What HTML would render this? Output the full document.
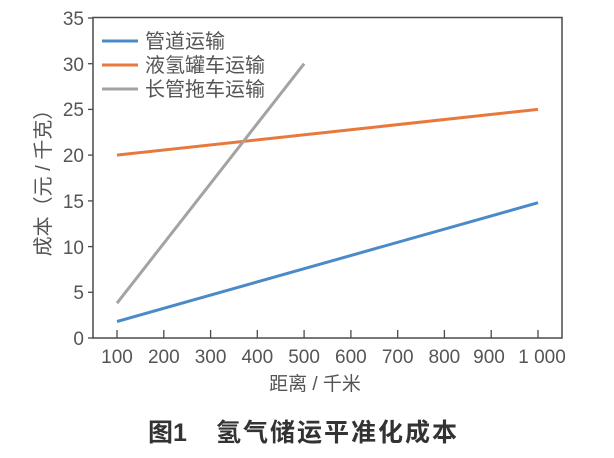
<!DOCTYPE html>
<html><head><meta charset="utf-8"><style>
html,body{margin:0;padding:0;background:#fff;}
svg{display:block;font-family:"Liberation Sans","Noto Sans CJK SC",sans-serif;}
</style></head><body>
<svg width="614" height="458" viewBox="0 0 614 458" xmlns="http://www.w3.org/2000/svg">
<rect width="614" height="458" fill="#fff"/>
<rect x="93" y="17.5" width="469" height="320.5" fill="none" stroke="#4a4a4a" stroke-width="1.5"/>
<g stroke="#4a4a4a" stroke-width="1.3">
<line x1="88" y1="338" x2="93" y2="338"/><line x1="88" y1="292.3" x2="93" y2="292.3"/><line x1="88" y1="246.6" x2="93" y2="246.6"/><line x1="88" y1="200.9" x2="93" y2="200.9"/><line x1="88" y1="155.1" x2="93" y2="155.1"/><line x1="88" y1="109.4" x2="93" y2="109.4"/><line x1="88" y1="63.7" x2="93" y2="63.7"/><line x1="88" y1="18" x2="93" y2="18"/>
<line x1="117" y1="338" x2="117" y2="330"/><line x1="163.8" y1="338" x2="163.8" y2="330"/><line x1="210.6" y1="338" x2="210.6" y2="330"/><line x1="257.3" y1="338" x2="257.3" y2="330"/><line x1="304.1" y1="338" x2="304.1" y2="330"/><line x1="350.9" y1="338" x2="350.9" y2="330"/><line x1="397.7" y1="338" x2="397.7" y2="330"/><line x1="444.4" y1="338" x2="444.4" y2="330"/><line x1="491.2" y1="338" x2="491.2" y2="330"/><line x1="538" y1="338" x2="538" y2="330"/>
</g>
<g font-size="19" fill="#555" text-anchor="end">
<text x="84" y="345">0</text><text x="84" y="299">5</text><text x="84" y="254">10</text><text x="84" y="208">15</text><text x="84" y="162">20</text><text x="84" y="116">25</text><text x="84" y="71">30</text><text x="84" y="25">35</text>
</g>
<g font-size="19" fill="#555" text-anchor="middle">
<text x="117" y="363">100</text><text x="163.8" y="363">200</text><text x="210.6" y="363">300</text><text x="257.3" y="363">400</text><text x="304.1" y="363">500</text><text x="350.9" y="363">600</text><text x="397.7" y="363">700</text><text x="444.4" y="363">800</text><text x="489" y="363">900</text><text x="542" y="363">1 000</text>
</g>
<text x="315" y="390" font-size="19" fill="#555" text-anchor="middle">距离 / 千米</text>
<text transform="translate(50,178) rotate(-90)" font-size="20" fill="#555" text-anchor="middle">成本（元 / 千克）</text>
<line x1="117" y1="321.5" x2="538" y2="202.7" stroke="#4a8ac8" stroke-width="3"/>
<line x1="117" y1="155.1" x2="538" y2="109.4" stroke="#e8793c" stroke-width="3"/>
<line x1="117" y1="303.2" x2="304.1" y2="63.7" stroke="#a3a3a3" stroke-width="3"/>
<line x1="102" y1="41" x2="138" y2="41" stroke="#4a8ac8" stroke-width="3"/>
<line x1="102" y1="65" x2="138" y2="65" stroke="#e8793c" stroke-width="3"/>
<line x1="102" y1="89" x2="138" y2="89" stroke="#a3a3a3" stroke-width="3"/>
<g font-size="20" fill="#555">
<text x="145" y="48">管道运输</text><text x="145" y="72">液氢罐车运输</text><text x="145" y="96">长管拖车运输</text>
</g>
<text x="148" y="441" font-size="25" font-weight="bold" fill="#333">图1</text>
<text x="216" y="441" font-size="25" font-weight="bold" fill="#333" letter-spacing="2">氢气储运平准化成本</text>
</svg>
</body></html>
